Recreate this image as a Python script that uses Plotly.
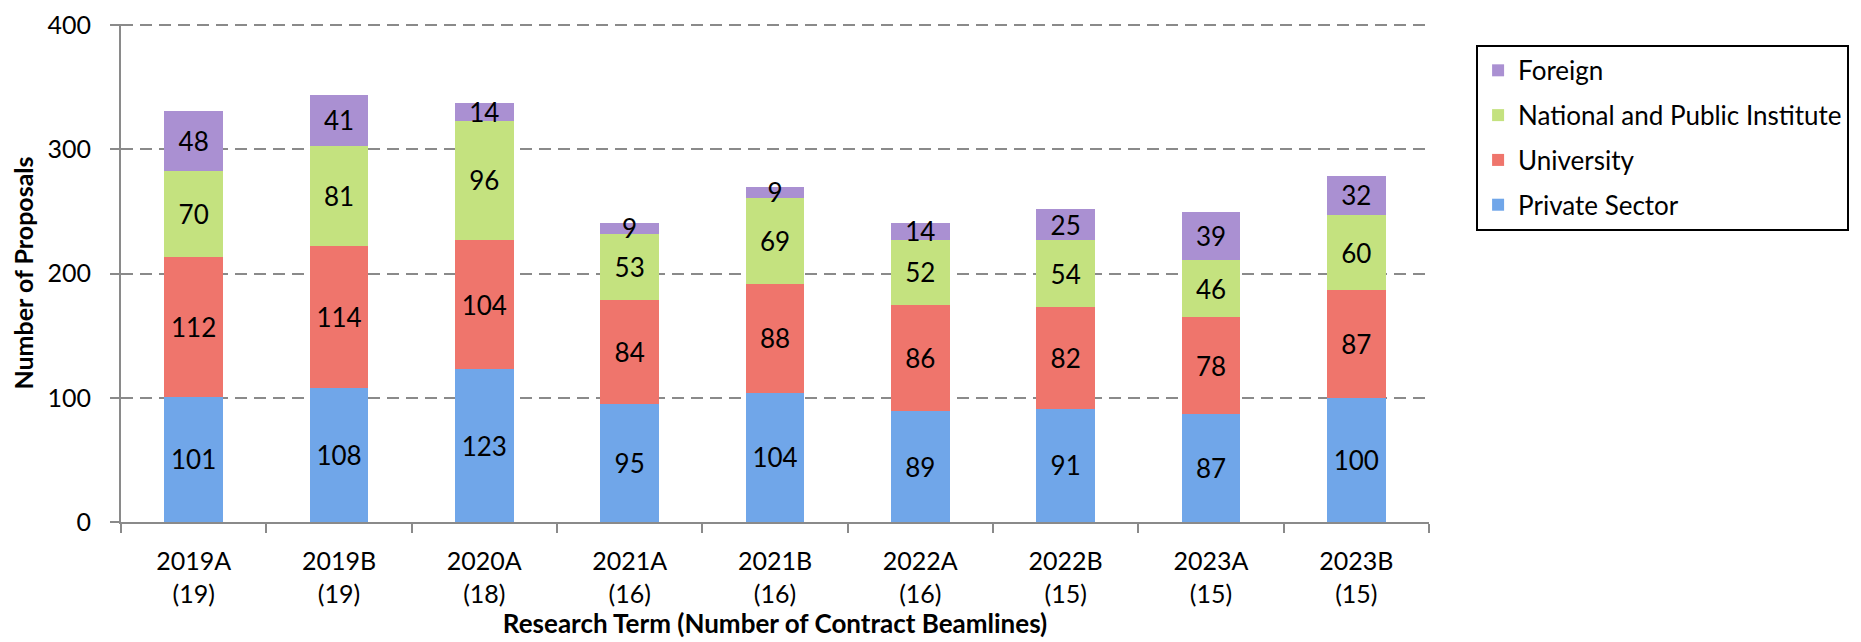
import plotly.graph_objects as go

terms = ["2019A", "2019B", "2020A", "2021A", "2021B", "2022A", "2022B", "2023A", "2023B"]
beamlines = [19, 19, 18, 16, 16, 16, 15, 15, 15]

private_sector = [101, 108, 123, 95, 104, 89, 91, 87, 100]
university = [112, 114, 104, 84, 88, 86, 82, 78, 87]
national_public = [70, 81, 96, 53, 69, 52, 54, 46, 60]
foreign = [48, 41, 14, 9, 9, 14, 25, 39, 32]

series_names = ["Private Sector", "University", "National and Public Institute", "Foreign"]
series_values = [private_sector, university, national_public, foreign]
series_colors = ["#70a6e9", "#ef756c", "#c4e27f", "#aa90d2"]
legend_ranks = [4, 3, 2, 1]

categories = [f"{t}<br>({b})" for t, b in zip(terms, beamlines)]

FONT = "Lato, 'Open Sans', sans-serif"
AXIS_GREY = "#8a8a8a"

fig = go.Figure()
for name, vals, col, rank in zip(series_names, series_values, series_colors, legend_ranks):
    fig.add_trace(go.Bar(
        x=categories, y=vals, name=name, legendgroup=name, legendrank=rank,
        marker=dict(color=col, line=dict(width=0)),
        text=vals, texttemplate="%{text}", textposition="inside", textangle=0,
        insidetextanchor="middle", constraintext="none",
        textfont=dict(color="black", size=26, family=FONT),
        cliponaxis=False,
    ))

fig.update_layout(
    width=1853, height=634,
    barmode="stack", bargap=0.597,
    plot_bgcolor="white", paper_bgcolor="white",
    margin=dict(l=113, r=428, t=16, b=120),
    font=dict(family=FONT, size=25, color="black"),
    legend=dict(
        x=1.036, y=0.958, xanchor="left", yanchor="top",
        traceorder="grouped", tracegroupgap=8,
        bordercolor="black", borderwidth=2, bgcolor="white",
        font=dict(size=26, family=FONT),
        itemwidth=30,
    ),
    showlegend=True,
)
fig.update_xaxes(
    type="category", showline=True, linecolor=AXIS_GREY, linewidth=2,
    ticks="outside", tickson="boundaries", ticklen=9, tickcolor=AXIS_GREY, tickwidth=2,
    tickfont=dict(size=25), showgrid=False, ticklabelstandoff=16, automargin=False,
    title=dict(text="<b>Research Term (Number of Contract Beamlines)</b>", font=dict(size=26), standoff=2),
)
fig.update_yaxes(
    range=[0, 401], tickvals=[0, 100, 200, 300, 400], showline=True, linecolor=AXIS_GREY, linewidth=2,
    ticks="outside", ticklen=9, tickcolor=AXIS_GREY, tickwidth=2,
    showgrid=True, gridcolor=AXIS_GREY, gridwidth=2, griddash="12px,7px",
    tickfont=dict(size=25), zeroline=False, ticklabelstandoff=14, automargin=False,
    ticklabeloverflow="allow",
    title=dict(text="<b>Number of Proposals</b>", font=dict(size=25), standoff=8),
)

fig.write_html("out.html")
